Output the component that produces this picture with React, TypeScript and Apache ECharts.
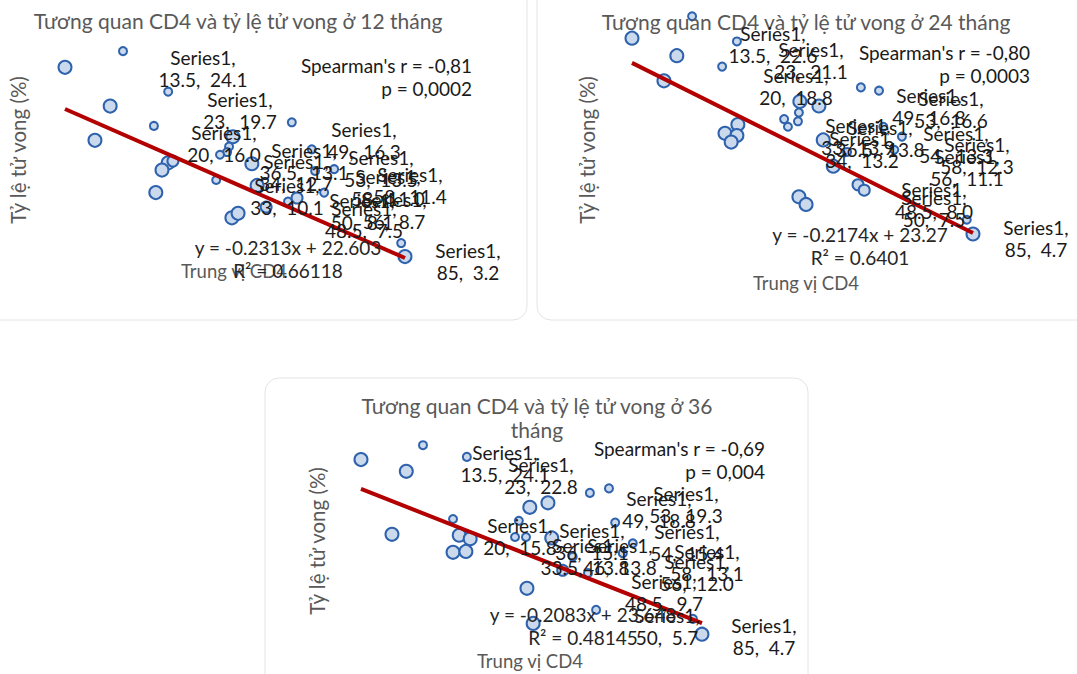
import React, { useEffect, useRef } from "react";
import * as echarts from "echarts";

// ---------- data (x = Trung vị CD4, y = Tỷ lệ tử vong %, s = bubble size class) ----------
const c1Points: number[][] = [
  [13.5, 24.1, 3], [25.7, 25.9, 1], [35.2, 21.4, 1], [23.0, 19.8, 3], [32.2, 17.6, 1],
  [19.8, 16.0, 3], [48.8, 16.4, 3], [48.0, 15.3, 1], [47.6, 14.7, 1], [46.1, 14.4, 1],
  [52.8, 13.4, 3], [35.2, 13.5, 3], [33.9, 12.7, 3], [36.2, 13.7, 2], [32.6, 10.2, 3],
  [45.3, 11.6, 1], [61.2, 18.0, 1], [65.4, 15.0, 1], [66.1, 12.6, 1], [70.1, 12.8, 1],
  [68.0, 10.2, 1], [62.3, 9.6, 2], [60.4, 9.2, 1], [53.9, 11.0, 3], [55.8, 8.6, 2],
  [48.6, 7.4, 3], [49.9, 7.9, 3], [84.2, 4.6, 1], [85.0, 3.1, 3],
];
const c2Points: number[][] = [
  [13.5, 22.6, 3], [26.1, 24.6, 1], [35.5, 22.3, 1], [22.9, 21.0, 3], [32.4, 20.0, 1],
  [20.2, 18.7, 3], [48.7, 16.8, 3], [52.7, 16.4, 3], [48.5, 15.8, 1], [48.3, 15.0, 1],
  [45.4, 15.2, 1], [46.2, 14.5, 1], [33.0, 13.9, 3], [35.7, 14.7, 3], [35.5, 13.7, 3],
  [34.3, 13.1, 3], [53.6, 13.3, 3], [55.7, 10.9, 3], [58.6, 12.2, 1], [60.9, 9.2, 2],
  [62.2, 8.7, 2], [48.5, 8.1, 3], [50.0, 7.4, 3], [61.5, 18.1, 1], [65.3, 17.8, 1],
  [66.2, 14.5, 1], [70.1, 13.6, 1], [68.5, 12.4, 1], [83.7, 6.0, 1], [85.0, 4.7, 3],
];
const c3Points: number[][] = [
  [13.5, 24.1, 3], [26.5, 25.7, 1], [35.7, 24.4, 1], [23.0, 22.8, 3], [20.0, 15.8, 3],
  [32.8, 17.5, 1], [34.1, 15.7, 3], [36.4, 15.3, 3], [32.8, 13.8, 3], [35.5, 13.9, 3],
  [48.9, 18.8, 3], [52.7, 19.3, 3], [46.6, 17.3, 1], [45.8, 15.5, 1], [48.1, 15.5, 1],
  [53.5, 15.4, 3], [61.5, 20.4, 1], [65.5, 20.9, 1], [66.8, 17.1, 1], [70.5, 14.8, 1],
  [68.4, 13.7, 1], [55.8, 11.8, 2], [57.9, 13.3, 1], [61.1, 11.5, 1], [48.3, 9.8, 3],
  [62.8, 7.4, 1], [49.6, 5.9, 3], [83.1, 6.4, 1], [85.0, 4.7, 3],
];

// trend line end points (x min / x max)
const c1Trend = [[13.5, 19.48], [85, 2.94]];
const c2Trend = [[13.5, 20.34], [85, 4.79]];
const c3Trend = [[13.5, 20.84], [85, 5.94]];

// data labels ("Series1, x, y")
const c1Labels = [["13.5", "24.1"], ["23", "19.7"], ["20", "16.0"], ["49", "16.3"], ["36.5", "13.1"],
  ["34", "12.7"], ["33", "10.1"], ["53", "13.5"], ["58", "11.0"], ["58", "11.4"], ["56", "8.7"],
  ["50", "8.1"], ["48.5", "7.5"], ["85", "3.2"]];
const c2Labels = [["13.5", "22.6"], ["23", "21.1"], ["20", "18.8"], ["49", "16.8"], ["53", "16.6"],
  ["33", "13.9"], ["36.5", "13.8"], ["34", "13.2"], ["54", "13.3"], ["58", "12.3"], ["56", "11.1"],
  ["48.5", "8.0"], ["50", "7.5"], ["85", "4.7"]];
const c3Labels = [["13.5", "24.1"], ["23", "22.8"], ["20", "15.8"], ["49", "18.8"], ["53", "19.3"],
  ["36", "15.1"], ["33.5", "13.8"], ["46", "13.8"], ["54", "15.4"], ["58", "13.1"], ["56", "12.0"],
  ["48.5", "9.7"], ["50", "5.7"], ["85", "4.7"]];

const titles = ["Tương quan CD4 và tỷ lệ tử vong ở 12 tháng", "Tương quan CD4 và tỷ lệ tử vong ở 24 tháng", "Tương quan CD4 và tỷ lệ tử vong ở 36\ntháng"];
const spearman = ["Spearman's r = -0,81\np = 0,0002", "Spearman's r = -0,80\np = 0,0003", "Spearman's r = -0,69\np = 0,004"];
const equations = ["y = -0.2313x + 22.603\nR² = 0.66118", "y = -0.2174x + 23.27\nR² = 0.6401", "y = -0.2083x + 23.648\nR² = 0.48145"];
const xTitle = "Trung vị CD4";
const yTitle = "Tỷ lệ tử vong (%)";

// ---------- layout (pixels) ----------
const c1LabelPos = [[203, 57], [240, 99], [224, 132], [364, 129], [304, 150], [296, 161], [287, 185],
  [381, 157], [388, 176], [410, 174], [394, 199], [362, 200], [364, 208], [468, 250]];
const c2LabelPos = [[773, 33], [811, 49], [796, 75], [929, 95], [951, 98], [858, 125], [880, 127],
  [862, 138], [956, 133], [977, 144], [967, 156], [934, 189], [934, 197], [1036, 227]];
const c3LabelPos = [[505, 452], [541, 464], [520, 525], [659, 498], [686, 493], [592, 530], [585, 545],
  [620, 545], [687, 531], [707, 551], [697, 561], [664, 581], [667, 615], [764, 625]];

const grids = [
  { left: 0.8, top: 14.2, width: 475.5, height: 270.3, ymin: 0, ymax: 30 },
  { left: 567.6, top: 11.9, width: 476.9, height: 273.5, ymin: 0, ymax: 25 },
  { left: 296.6, top: 406.5, width: 476.9, height: 252, ymin: 2, ymax: 30 },
];
const frames = [
  { x: -20, y: -20, width: 547, height: 340 },
  { x: 537, y: -20, width: 560, height: 340 },
  { x: 265, y: 378, width: 543, height: 330 },
];
const titlePos = [[238, 20], [806, 21], [537, 405]];
const spearPos = [[472, 65], [1030, 52], [765, 448]];
const eqPos = [[288, 247], [860, 234], [583, 614]];
const xTitlePos = [[234, 271], [806, 283], [530, 661]];
const yTitlePos = [[18, 150], [587, 150], [317, 541]];

const FONT = "Lato, Carlito, Calibri, sans-serif";
const sizeMap: Record<number, number> = { 1: 8, 2: 11, 3: 13 };

export default function App() {
  const ref = useRef<HTMLDivElement>(null);
  useEffect(() => {
    if (!ref.current) return;
    const chart = echarts.init(ref.current, null, { renderer: "svg" });
    const points = [c1Points, c2Points, c3Points];
    const trends = [c1Trend, c2Trend, c3Trend];
    const labels = [c1Labels, c2Labels, c3Labels];
    const labelPos = [c1LabelPos, c2LabelPos, c3LabelPos];

    const series: any[] = [];
    const graphics: any[] = [];
    for (let i = 0; i < 3; i++) {
      series.push({
        type: "scatter",
        xAxisIndex: i,
        yAxisIndex: i,
        data: points[i],
        symbolSize: (v: number[]) => sizeMap[v[2]],
        itemStyle: { color: "#cbd9ed", borderColor: "#2e62ad", borderWidth: 2, opacity: 1 },
        clip: false,
        z: 2,
      });
      series.push({
        type: "line",
        xAxisIndex: i,
        yAxisIndex: i,
        data: trends[i],
        symbol: "none",
        lineStyle: { color: "#b30000", width: 4 },
        clip: false,
        z: 3,
      });
      const f = frames[i];
      graphics.push({
        type: "rect",
        shape: { x: f.x, y: f.y, width: f.width, height: f.height, r: 14 },
        style: { fill: "none", stroke: "#e4e4e4", lineWidth: 1 },
        z: 0,
      });
      graphics.push({
        type: "text",
        x: titlePos[i][0],
        y: titlePos[i][1] - 12,
        style: { text: titles[i], font: `21px ${FONT}`, fill: "#595959", align: "center", verticalAlign: "top", lineHeight: 24 },
        z: 50,
      });
      labels[i].forEach((lab, j) => {
        graphics.push({
          type: "text",
          x: labelPos[i][j][0],
          y: labelPos[i][j][1] - 11,
          style: { text: `Series1,\n${lab[0]},  ${lab[1]}`, font: `19px ${FONT}`, fill: "#1a1a1a", align: "center", verticalAlign: "top", lineHeight: 22 },
          z: 60,
        });
      });
      graphics.push({
        type: "text",
        x: spearPos[i][0],
        y: spearPos[i][1] - 11,
        style: { text: spearman[i], font: `19px ${FONT}`, fill: "#1a1a1a", align: "right", verticalAlign: "top", lineHeight: 23 },
        z: 60,
      });
      graphics.push({
        type: "text",
        x: eqPos[i][0],
        y: eqPos[i][1] - 11,
        style: { text: equations[i], font: `19px ${FONT}`, fill: "#262626", align: "center", verticalAlign: "top", lineHeight: 23 },
        z: 60,
      });
      graphics.push({
        type: "text",
        x: xTitlePos[i][0],
        y: xTitlePos[i][1],
        style: { text: xTitle, font: `18.5px ${FONT}`, fill: "#595959", align: "center", verticalAlign: "middle" },
        z: 55,
      });
      graphics.push({
        type: "text",
        x: yTitlePos[i][0],
        y: yTitlePos[i][1],
        rotation: Math.PI / 2,
        style: { text: yTitle, font: `20.5px ${FONT}`, fill: "#595959", align: "center", verticalAlign: "middle" },
        z: 55,
      });
    }

    chart.setOption({
      animation: false,
      grid: grids.map((g) => ({ left: g.left, top: g.top, width: g.width, height: g.height, containLabel: false })),
      xAxis: grids.map((g, i) => ({ gridIndex: i, type: "value", min: 0, max: 100, show: false })),
      yAxis: grids.map((g, i) => ({ gridIndex: i, type: "value", min: g.ymin, max: g.ymax, show: false })),
      series,
      graphic: { elements: graphics },
    });
    return () => chart.dispose();
  }, []);
  return <div ref={ref} style={{ position: "absolute", left: 0, top: 0, width: 1077, height: 674, background: "#fff" }} />;
}
